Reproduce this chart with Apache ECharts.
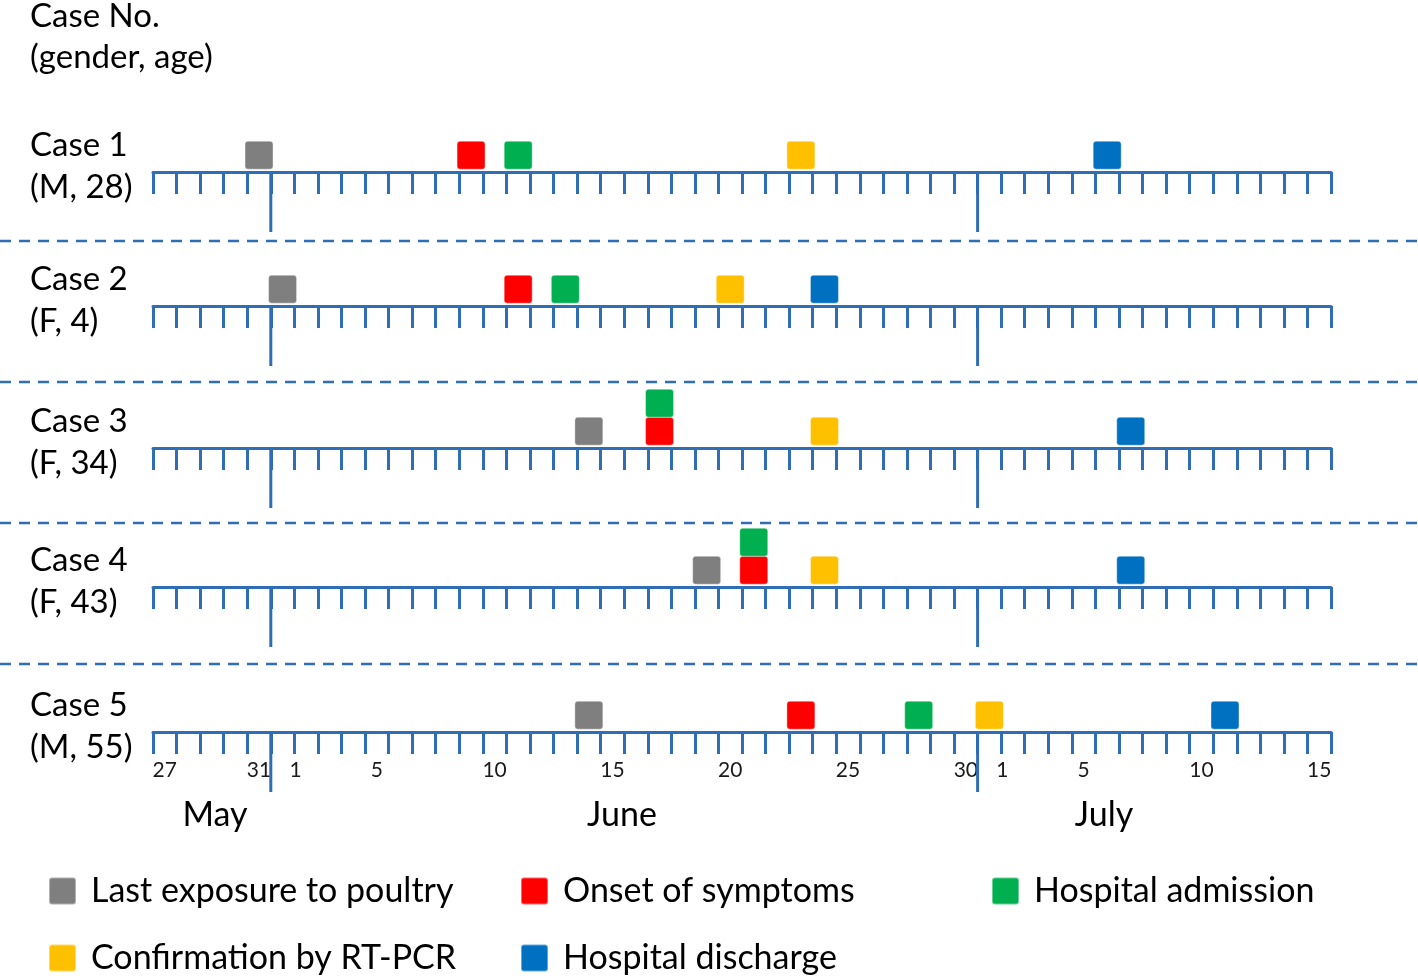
<!DOCTYPE html>
<html>
<head>
<meta charset="utf-8">
<script src="https://cdn.jsdelivr.net/npm/echarts@6/dist/echarts.min.js"></script>
<style>
html,body{margin:0;padding:0;background:#fff;}
#chart{width:1418px;height:978px;}
</style>
</head>
<body>
<div id="chart"></div>
<script>
// ---- data ----
const caseNames = ['Case 1', 'Case 2', 'Case 3', 'Case 4', 'Case 5'];
const caseInfo = ['(M, 28)', '(F, 4)', '(F, 34)', '(F, 43)', '(M, 55)'];
const days = [
  'May 27','May 28','May 29','May 30','May 31',
  'Jun 1','Jun 2','Jun 3','Jun 4','Jun 5','Jun 6','Jun 7','Jun 8','Jun 9','Jun 10',
  'Jun 11','Jun 12','Jun 13','Jun 14','Jun 15','Jun 16','Jun 17','Jun 18','Jun 19','Jun 20',
  'Jun 21','Jun 22','Jun 23','Jun 24','Jun 25','Jun 26','Jun 27','Jun 28','Jun 29','Jun 30',
  'Jul 1','Jul 2','Jul 3','Jul 4','Jul 5','Jul 6','Jul 7','Jul 8','Jul 9','Jul 10',
  'Jul 11','Jul 12','Jul 13','Jul 14','Jul 15'
];
const tickLabelDates = ['May 27','May 31','Jun 1','Jun 5','Jun 10','Jun 15','Jun 20','Jun 25','Jun 30','Jul 1','Jul 5','Jul 10','Jul 15'];
const monthStarts = ['Jun 1', 'Jul 1'];
const monthNames = ['May', 'June', 'July'];

const exposure     = ['May 31', 'Jun 1',  'Jun 14', 'Jun 19', 'Jun 14'];
const onset        = ['Jun 9',  'Jun 11', 'Jun 17', 'Jun 21', 'Jun 23'];
const admission    = ['Jun 11', 'Jun 13', 'Jun 17', 'Jun 21', 'Jun 28'];
const confirmation = ['Jun 23', 'Jun 20', 'Jun 24', 'Jun 24', 'Jul 1'];
const discharge    = ['Jul 6',  'Jun 24', 'Jul 7',  'Jul 7',  'Jul 11'];
const admissionStack = [0, 0, 1, 1, 0]; // stacked above onset marker when same day

const eventNames = ['Last exposure to poultry', 'Onset of symptoms', 'Hospital admission', 'Confirmation by RT-PCR', 'Hospital discharge'];
const eventColors = ['#7f7f7f', '#ff0000', '#00b050', '#ffc000', '#0070c0'];

// ---- layout ----
const FONT = 'Lato, "Open Sans", sans-serif';
const AXIS_COLOR = '#2f6db5';
const axisY = [172, 306, 448, 587, 732];
const sepY = [241, 382, 523, 664];
const W = 1418;
const gridLeft = 153, gridRight = 87, gridH = 70;
const SQUARE = 'path://M3,0 H25 Q28,0 28,3 V25 Q28,28 25,28 H3 Q0,28 0,25 V3 Q0,0 3,0 Z';

const chart = echarts.init(document.getElementById('chart'), null, {renderer: 'canvas'});

const grids = [], xAxes = [], yAxes = [], series = [];
const eventData = [exposure, onset, admission, confirmation, discharge];

for (let i = 0; i < 5; i++) {
  grids.push({left: gridLeft, right: gridRight, top: axisY[i] - gridH, height: gridH, containLabel: false});
  const isLast = i === 4;
  xAxes.push({
    type: 'category', gridIndex: i, data: days, boundaryGap: true,
    axisLine: {show: true, lineStyle: {color: AXIS_COLOR, width: 3}},
    axisTick: {show: true, interval: 0, length: 22, lineStyle: {color: AXIS_COLOR, width: 3}},
    axisLabel: {
      show: isLast, interval: (idx, val) => tickLabelDates.indexOf(val) >= 0,
      margin: 28, fontSize: 21, fontFamily: FONT, color: '#1a1a1a',
      formatter: (val) => {
        const d = val.split(' ')[1];
        return d === '1' ? '{s|' + d + '}' : d;
      },
      rich: {s: {fontSize: 21, fontFamily: FONT, color: '#1a1a1a', padding: [0, 0, 0, 26]}}
    },
    splitLine: {show: false}
  });
  yAxes.push({type: 'value', gridIndex: i, min: 0, max: 2.5, show: false});

  eventNames.forEach((name, k) => {
    const level = (k === 2 ? admissionStack[i] : 0);
    series.push({
      type: 'scatter', name: name, xAxisIndex: i, yAxisIndex: i,
      symbol: SQUARE, symbolSize: [28, 28], symbolKeepAspect: true,
      itemStyle: {color: eventColors[k], opacity: 1, borderColor: 'rgba(255,255,255,0.4)', borderWidth: 1},
      data: [[eventData[k][i], 0.6 + level]],
      silent: true, z: 5
    });
  });

  // long month-boundary ticks
  series.push({
    type: 'custom', xAxisIndex: i, yAxisIndex: i, silent: true, z: 4,
    data: monthStarts.map(m => [days.indexOf(m), 0]),
    renderItem: (params, api) => {
      const idx = api.value(0);
      const a = api.coord([idx - 1, 0]);
      const b = api.coord([idx, 0]);
      const x = (a[0] + b[0]) / 2;
      return {type: 'line', shape: {x1: x, y1: a[1], x2: x, y2: a[1] + 60},
        style: {stroke: AXIS_COLOR, lineWidth: 3}};
    }
  });
}

const graphics = [];
graphics.push({type: 'text', x: 30, y: 16, style: {text: 'Case No.', font: '33px ' + FONT, fill: '#000', textVerticalAlign: 'middle'}});
graphics.push({type: 'text', x: 30, y: 57, style: {text: '(gender, age)', font: '33px ' + FONT, fill: '#000', textVerticalAlign: 'middle'}});
for (let i = 0; i < 5; i++) {
  graphics.push({type: 'text', x: 30, y: axisY[i] - 27, style: {text: caseNames[i], font: '33px ' + FONT, fill: '#000', textVerticalAlign: 'middle'}});
  graphics.push({type: 'text', x: 30, y: axisY[i] + 15, style: {text: caseInfo[i], font: '33px ' + FONT, fill: '#000', textVerticalAlign: 'middle'}});
}
sepY.forEach(y => {
  graphics.push({type: 'line', shape: {x1: 0, y1: y, x2: W, y2: y}, style: {stroke: AXIS_COLOR, lineWidth: 2.5, lineDash: [11, 8]}});
});
const monthX = [215, 622, 1104];
monthNames.forEach((m, k) => {
  graphics.push({type: 'text', x: monthX[k], y: 815, style: {text: m, font: '34px ' + FONT, fill: '#000', textAlign: 'center', textVerticalAlign: 'middle'}});
});

const legendCommon = {
  orient: 'vertical', top: 874, padding: 0, itemWidth: 27, itemHeight: 28, itemGap: 33,
  icon: SQUARE, selectedMode: false,
  textStyle: {fontSize: 34, fontFamily: FONT, color: '#000', padding: [0, 0, 0, 10]}
};

chart.setOption({
  animation: false,
  backgroundColor: '#fff',
  grid: grids, xAxis: xAxes, yAxis: yAxes, series: series,
  legend: [
    Object.assign({}, legendCommon, {left: 48, data: ['Last exposure to poultry', 'Confirmation by RT-PCR']}),
    Object.assign({}, legendCommon, {left: 520, data: ['Onset of symptoms', 'Hospital discharge']}),
    Object.assign({}, legendCommon, {left: 991, data: ['Hospital admission']})
  ],
  graphic: graphics
});
</script>
</body>
</html>
